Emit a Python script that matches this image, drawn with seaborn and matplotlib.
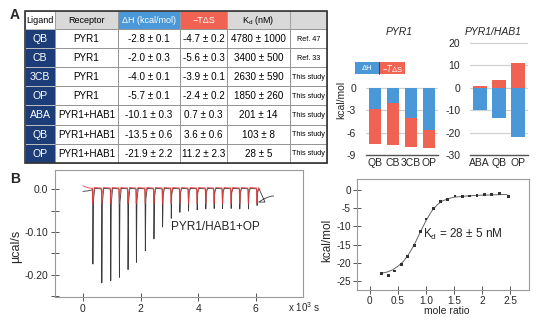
import numpy as np
import pandas as pd
import matplotlib
matplotlib.use("Agg")
import matplotlib.pyplot as plt
from matplotlib.patches import Rectangle
import seaborn as sns

sns.set_theme(style="white")
plt.rcParams["font.family"] = ["Liberation Sans", "DejaVu Sans"]
plt.rcParams["mathtext.default"] = "regular"

# ---------------- thermodynamic table data ----------------
ligands = ["QB", "CB", "3CB", "OP", "ABA", "QB", "OP"]
receptors = ["PYR1", "PYR1", "PYR1", "PYR1", "PYR1+HAB1", "PYR1+HAB1", "PYR1+HAB1"]
dH = [-2.8, -2.0, -4.0, -5.7, -10.1, -13.5, -21.9]
dH_err = [0.1, 0.3, 0.1, 0.1, 0.3, 0.6, 2.2]
mTdS = [-4.7, -5.6, -3.9, -2.4, 0.7, 3.6, 11.2]
mTdS_err = [0.2, 0.3, 0.1, 0.2, 0.3, 0.6, 2.3]
kd_nM = [4780, 3400, 2630, 1850, 201, 103, 28]
kd_err = [1000, 500, 590, 260, 14, 8, 5]
sources = ["Ref. 47", "Ref. 33", "This study", "This study", "This study", "This study", "This study"]
headers = ["Ligand", "Receptor", "\u0394H (kcal/mol)", "\u2212T\u0394S", "K$_d$ (nM)", ""]

# ---------------- raw ITC trace (PYR1/HAB1 + OP) ----------------
inj_time = [0.34, 0.65, 0.96, 1.26, 1.56, 1.85, 2.16, 2.46, 2.76, 3.06,
            3.36, 3.66, 3.96, 4.26, 4.55, 4.84, 5.14, 5.44, 5.74, 6.04]
inj_depth = [-0.175, -0.219, -0.214, -0.206, -0.188, -0.171, -0.144, -0.116, -0.088, -0.068,
             -0.054, -0.051, -0.048, -0.046, -0.045, -0.045, -0.045, -0.046, -0.046, -0.038]
tail_time = [6.10, 6.25, 6.40, 6.55, 6.62]
tail_val = [-0.030, -0.024, -0.019, -0.016, -0.016]

# ---------------- integrated heats ----------------
mole_ratio = [0.21, 0.33, 0.44, 0.56, 0.67, 0.79, 0.90, 1.00, 1.14, 1.26,
              1.39, 1.52, 1.65, 1.78, 1.91, 2.04, 2.17, 2.32, 2.47]
heat = [-23.0, -23.6, -22.3, -20.5, -18.3, -15.2, -11.5, -8.0, -5.0, -3.1,
        -2.6, -1.7, -1.9, -1.7, -1.5, -1.3, -1.3, -0.9, -1.8]
fit_ratio = [0.20, 0.30, 0.40, 0.50, 0.60, 0.70, 0.80, 0.90, 1.00, 1.10,
             1.20, 1.30, 1.40, 1.50, 1.70, 1.90, 2.10, 2.30, 2.45]
fit_heat = [-22.9, -22.6, -22.0, -21.0, -19.6, -17.5, -14.8, -11.6, -8.5, -5.9,
            -4.1, -3.0, -2.4, -2.0, -1.7, -1.5, -1.4, -1.3, -1.25]

BLUE = "#4a98d8"
RED = "#f06352"
NAVY = "#1d3d78"
HEADGRAY = "#d9d9d9"

W, H = 546, 324
fig = plt.figure(figsize=(W / 100, H / 100), dpi=100)


def frac(x0, y0, x1, y1):
    """pixel box (top-left origin) -> figure axes rect"""
    return [x0 / W, 1 - y1 / H, (x1 - x0) / W, (y1 - y0) / H]


# ---------------- pixel canvas for table, legend and labels ----------------
cv = fig.add_axes([0, 0, 1, 1])
cv.set_xlim(0, W)
cv.set_ylim(H, 0)
cv.axis("off")

col_x = [25, 55, 118, 180, 227, 290, 327]
top, head_bot, row_h = 11, 29, 19.1
row_y = [head_bot + i * row_h for i in range(len(ligands) + 1)]

head_fc = ["white", HEADGRAY, BLUE, RED, HEADGRAY, HEADGRAY]
head_tc = ["black", "black", "white", "white", "black", "black"]
for j, h in enumerate(headers):
    cv.add_patch(Rectangle((col_x[j], top), col_x[j + 1] - col_x[j], head_bot - top,
                           fc=head_fc[j], ec="#9a9a9a", lw=0.6))
    cv.text((col_x[j] + col_x[j + 1]) / 2, (top + head_bot) / 2 + 0.5, h,
            ha="center", va="center", fontsize=6.5, color=head_tc[j])

for i in range(len(ligands)):
    y0, y1 = row_y[i], row_y[i + 1]
    yc = (y0 + y1) / 2 + 0.5
    cells = [ligands[i], receptors[i],
             f"{dH[i]:.1f} \u00b1 {dH_err[i]:.1f}",
             f"{mTdS[i]:.1f} \u00b1 {mTdS_err[i]:.1f}",
             f"{kd_nM[i]} \u00b1 {kd_err[i]}",
             sources[i]]
    for j, c in enumerate(cells):
        fc = NAVY if j == 0 else "white"
        ec = "#c8c8c8" if j == 0 else "#8a8a8a"
        cv.add_patch(Rectangle((col_x[j], y0), col_x[j + 1] - col_x[j], y1 - y0,
                               fc=fc, ec=ec, lw=0.6))
        cv.text((col_x[j] + col_x[j + 1]) / 2, yc, c, ha="center", va="center",
                fontsize=7.6 if j == 0 else (5.2 if j == 5 else 7.1),
                color="white" if j == 0 else "black")

cv.add_patch(Rectangle((col_x[0], top), col_x[-1] - col_x[0], row_y[-1] - top,
                       fc="none", ec="#333333", lw=1.2))

# panel letters
cv.text(15, 15, "A", fontsize=10, fontweight="bold", ha="center", va="center")
cv.text(15, 179, "B", fontsize=10, fontweight="bold", ha="center", va="center")

# bar panel titles
cv.text(399, 32, "PYR1", fontsize=7.5, style="italic", ha="center", va="center")
cv.text(493, 32, "PYR1/HAB1", fontsize=7.5, style="italic", ha="center", va="center")

# legend boxes for the stacked bars
cv.add_patch(Rectangle((355, 62), 24, 12, fc=BLUE, ec="none"))
cv.add_patch(Rectangle((379, 62), 26, 12, fc=RED, ec="none"))
cv.plot([379, 379], [62, 74], color="#333333", lw=0.6)
cv.text(367, 68.5, "\u0394H", color="white", fontsize=5.5, ha="center", va="center")
cv.text(392, 68.5, "\u2212$\\it{T}$\u0394S", color="white", fontsize=5.5, ha="center", va="center")

cv.text(341, 100, "kcal/mol", rotation=90, fontsize=7.5, ha="center", va="center")
cv.text(16, 246, "\u00b5cal/s", rotation=90, fontsize=9, ha="center", va="center")
cv.text(327, 240, "kcal/mol", rotation=90, fontsize=8.5, ha="center", va="center")
cv.text(304, 307, "x 10$^3$ s", fontsize=7, ha="center", va="center")
cv.text(447, 311, "mole ratio", fontsize=7.5, ha="center", va="center")


# ---------------- stacked bar panels ----------------
def stacked(ax, idx, ylim, yticks):
    names = [ligands[i] for i in idx]
    h = np.array([dH[i] for i in idx])
    s = np.array([mTdS[i] for i in idx])
    pos = np.arange(len(idx))
    ax.bar(pos, h, width=0.72, color=BLUE, lw=0, zorder=2)
    bottom = np.where((s < 0) & (h < 0), h, 0.0)
    ax.bar(pos, s, bottom=bottom, width=0.72, color=RED, lw=0, zorder=2)
    ax.set_xlim(-0.5, len(idx) - 0.5)
    ax.set_ylim(*ylim)
    ax.set_yticks(yticks)
    ax.set_yticklabels([str(t) for t in yticks])
    ax.set_xticks(pos)
    ax.set_xticklabels(names)
    for t in yticks[1:]:
        ax.axhline(t, color="#d0d0d0", lw=0.9, zorder=1)
    for sp in ["top", "right", "left"]:
        ax.spines[sp].set_visible(False)
    ax.spines["bottom"].set_color("#555555")
    ax.spines["bottom"].set_linewidth(1.0)
    ax.tick_params(axis="both", length=0, labelsize=7.5, pad=2)
    ax.tick_params(axis="y", pad=7)
    ax.set_facecolor("none")


ax1 = fig.add_axes(frac(366, 86.5, 438, 155))
stacked(ax1, [0, 1, 2, 3], (-9, 0.2), [-9, -6, -3, 0])

ax2 = fig.add_axes(frac(470, 40.8, 528, 155))
stacked(ax2, [4, 5, 6], (-30, 21), [-30, -20, -10, 0, 10, 20])

# ---------------- raw thermogram ----------------
tx, ty = [0.0, 0.15, 0.30], [-0.005, -0.004, -0.002]
rx, ry = [0.0, 0.15, 0.30], [0.008, 0.004, 0.002]
for t, d in zip(inj_time, inj_depth):
    tx += [t - 0.004, t + 0.006, t + 0.025, t + 0.07, t + 0.28]
    ty += [0.0, d, d * 0.15, 0.002, 0.001]
    rd = max(d, -0.033)
    rx += [t - 0.015, t + 0.004, t + 0.02, t + 0.06, t + 0.27]
    ry += [0.003, rd, rd * 0.3, 0.004, 0.003]
ty[-1] = tail_val[0]
tx += tail_time
ty += tail_val
trace = pd.DataFrame({"t": tx, "q": ty})
fit_tr = pd.DataFrame({"t": rx[:-1], "q": ry[:-1]})

ax3 = fig.add_axes(frac(55, 170, 303, 297))
sns.lineplot(data=trace, x="t", y="q", ax=ax3, color="#3a3a3a", lw=0.6, sort=False,
             estimator=None)
sns.lineplot(data=fit_tr, x="t", y="q", ax=ax3, color="#ec3a3a", lw=0.7, sort=False,
             estimator=None, alpha=0.85)
ax3.set_xlim(-0.97, 7.64)
ax3.set_ylim(-0.252, 0.045)
ax3.set_xticks([0, 2, 4, 6])
ax3.set_yticks([0.0, -0.05, -0.10, -0.15, -0.20, -0.25])
ax3.set_yticklabels(["0.0", "", "-0.10", "", "-0.20", ""])
ax3.set_xlabel("")
ax3.set_ylabel("")
ax3.text(4.6, -0.088, "PYR1/HAB1+OP", fontsize=8.5, ha="center", va="center")

# ---------------- binding isotherm ----------------
ax4 = fig.add_axes(frac(357, 179, 529, 290))
sns.lineplot(x=fit_ratio, y=fit_heat, ax=ax4, color="#666666", lw=0.7)
sns.scatterplot(x=mole_ratio, y=heat, ax=ax4, color="#333333", s=4, marker="s",
                edgecolor="none", zorder=3)
ax4.set_xlim(-0.23, 2.84)
ax4.set_ylim(-27.5, 3.0)
ax4.set_xticks([0, 0.5, 1.0, 1.5, 2.0, 2.5])
ax4.set_xticklabels(["0", "0.5", "1.0", "1.5", "2", "2.5"])
ax4.set_yticks([0, -5, -10, -15, -20, -25])
ax4.set_yticklabels(["0", "-5", "-10", "-15", "-20", "-25"])
ax4.text(1.65, -12.3, f"K$_d$ = {kd_nM[-1]} \u00b1 {kd_err[-1]} nM", fontsize=8.5,
         ha="center", va="center")

for ax in (ax3, ax4):
    for sp in ax.spines.values():
        sp.set_color("#9a9a9a")
        sp.set_linewidth(0.8)
    ax.tick_params(axis="both", direction="inout", length=6, width=0.7, color="#555555",
                   labelsize=7.5, pad=2, left=True, bottom=True)
ax4.tick_params(axis="both", labelsize=7.2, pad=1.5)

fig.savefig("out.png", dpi=100)
